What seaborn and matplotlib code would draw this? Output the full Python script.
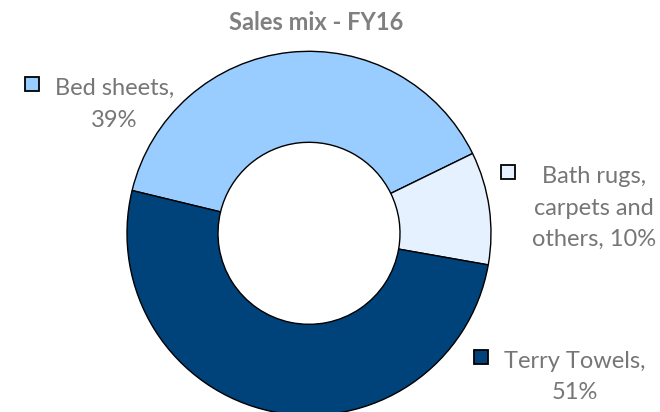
import matplotlib
matplotlib.use("Agg")
import matplotlib.pyplot as plt
from matplotlib.patches import Rectangle
import seaborn as sns

# Sales mix data
categories = ["Bed sheets", "Bath rugs, carpets and others", "Terry Towels"]
shares = [39, 10, 51]
label_templates = [
    "Bed sheets,\n{}%",
    "Bath rugs,\ncarpets and\nothers, {}%",
    "Terry Towels,\n{}%",
]
title = "Sales mix - FY16"

colors = sns.color_palette(["#99CCFF", "#E5F1FF", "#00427A"])

sns.set_theme(style="white")
plt.rcParams["font.family"] = ["Lato", "DejaVu Sans"]

W, H = 660, 412
fig = plt.figure(figsize=(W / 100, H / 100), dpi=100)
ax = fig.add_axes([0, 0, 1, 1])

# donut geometry (pixel units, y measured from the bottom)
cx, cy = 309, H - 233.3
R = 182
ring = 91

ax.pie(
    shares,
    colors=colors,
    startangle=166.4,
    counterclock=False,
    radius=R,
    center=(cx, cy),
    frame=True,
    wedgeprops=dict(width=ring, edgecolor="black", linewidth=1.0),
)
ax.set_xlim(0, W)
ax.set_ylim(0, H)
ax.set_aspect("equal")
ax.axis("off")

# title
ax.text(316.4, H - 30, title, ha="center", va="baseline",
        fontsize=17, fontweight="bold", color="#808080")

# data labels with legend keys
label_layout = [
    # key centre, text centre x, first baseline, line step
    ((32, 84), 114.5, 95, 32),
    ((508, 171.5), 594, 183, 31.5),
    ((480.5, 357), 575, 367.7, 31.5),
]
text_color = "#767676"
for tmpl, val, col, (key, tx, base, step) in zip(label_templates, shares, colors, label_layout):
    lines = tmpl.format(val).split("\n")
    for i, line in enumerate(lines):
        ax.text(tx, H - (base + i * step), line, ha="center", va="baseline",
                fontsize=17, color=text_color)
    s = 14
    ax.add_patch(Rectangle((key[0] - s / 2, H - key[1] - s / 2), s, s,
                           facecolor=col, edgecolor="black", linewidth=1.3,
                           zorder=5))

fig.savefig("out.png", dpi=100)
